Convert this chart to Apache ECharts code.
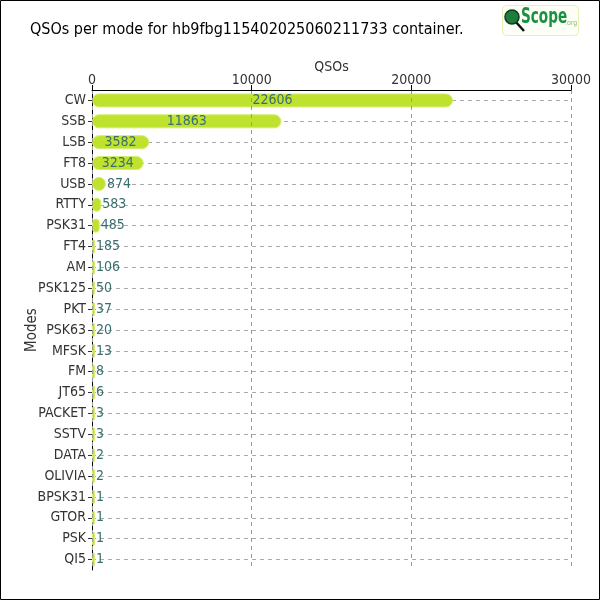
<!DOCTYPE html>
<html><head><meta charset="utf-8">
<script src="https://cdn.jsdelivr.net/npm/echarts@6/dist/echarts.min.js"></script>
<style>html,body{margin:0;padding:0;background:#fff}#c{width:600px;height:600px}</style>
</head><body><div id="c"></div>
<script>
const modes = ['CW','SSB','LSB','FT8','USB','RTTY','PSK31','FT4','AM','PSK125','PKT','PSK63','MFSK','FM','JT65','PACKET','SSTV','DATA','OLIVIA','BPSK31','GTOR','PSK','QI5'];
const qsos = [22606,11863,3582,3234,874,583,485,185,106,50,37,20,13,8,6,3,3,2,2,1,1,1,1];
const xTicks = [0,10000,20000,30000];
const titleText = 'QSOs per mode for hb9fbg115402025060211733 container.';

const FONT = '"DejaVu Sans Condensed", Lato';
const chart = echarts.init(document.getElementById('c'));
chart.setOption({
  animation: false,
  backgroundColor: '#fff',
  title: {text: titleText, left: 25, top: 17, textStyle: {fontFamily: FONT, fontSize: 16, fontWeight: 'normal', color: '#000'}},
  grid: {left: 92, right: 29, top: 90, height: 480, containLabel: false, outerBoundsMode: 'none'},
  xAxis: {
    type: 'value', position: 'top', min: xTicks[0], max: xTicks[xTicks.length-1], interval: 10000,
    name: 'QSOs', nameLocation: 'middle', nameGap: 16, nameMoveOverlap: false,
    nameTextStyle: {fontFamily: FONT, fontSize: 14, color: '#333'},
    axisLine: {show: true, lineStyle: {color: '#000'}},
    axisTick: {show: true, length: 5, lineStyle: {color: '#000'}},
    axisLabel: {fontFamily: FONT, fontSize: 14, color: '#333', margin: 3, formatter: v => String(v)},
    splitLine: {show: true, lineStyle: {type: [4,4], color: '#999'}},
    z: 3
  },
  yAxis: {
    type: 'category', data: modes, inverse: true,
    name: 'Modes', nameLocation: 'middle', nameGap: 52, nameMoveOverlap: false,
    nameTextStyle: {fontFamily: FONT, fontSize: 15, color: '#333'},
    axisLine: {show: true, lineStyle: {color: '#000'}},
    axisTick: {show: true, alignWithLabel: true, length: 4, lineStyle: {color: '#333'}},
    axisLabel: {fontFamily: FONT, fontSize: 14, color: '#333', margin: 6},
    splitLine: {show: true, alignWithLabel: true, lineStyle: {type: [4,4], color: '#aaa'}}
  },
  series: [{
    type: 'bar', barWidth: 14, barMinHeight: 3,
    data: qsos.map(v => ({value: v, label: {position: v > 2500 ? 'inside' : 'right', distance: 1}})),
    itemStyle: {color: '#bfe22e', borderColor: '#d3ee72', borderWidth: 1, borderRadius: 7},
    label: {show: true, fontFamily: FONT, fontSize: 14, color: '#3a6e6e'}
  }],
  graphic: [
    {type: 'rect', shape: {x: 0.5, y: 0.5, width: 599, height: 599}, style: {fill: 'none', stroke: '#000', lineWidth: 1}, silent: true},
    {type: 'rect', shape: {x: 502.5, y: 5.5, width: 76, height: 30, r: 4}, style: {fill: '#fdfef6', stroke: '#e6f0b8', lineWidth: 1}},
    {type: 'line', shape: {x1: 515, y1: 21, x2: 524, y2: 31}, style: {stroke: '#111', lineWidth: 2.5}},
    {type: 'circle', shape: {cx: 512, cy: 17, r: 7}, style: {fill: '#1e7d3c', stroke: '#0b3d1a', lineWidth: 1.5}},
    {type: 'text', x: 521, y: 7, scaleX: 0.72, style: {x: 0, y: 0, text: 'Scope', fontFamily: FONT, fontWeight: 'bold', fontSize: 21, fill: '#1a9142'}},
    {type: 'text', x: 565, y: 20, style: {x: 0, y: 0, text: '.org', fontFamily: FONT, fontSize: 7, fill: '#8fc56a'}}
  ]
});
</script></body></html>
